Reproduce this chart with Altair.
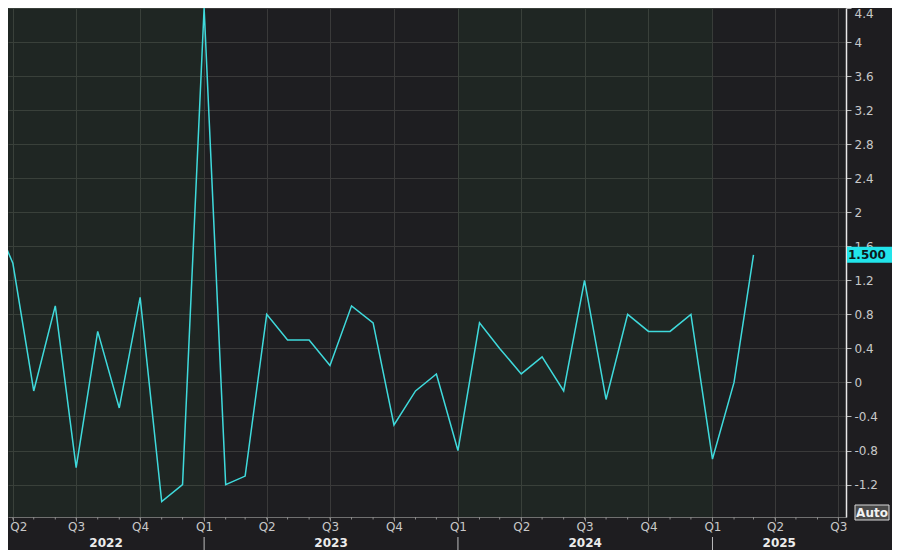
import altair as alt
import pandas as pd

# ---- data ----
months = [
    "2022-03", "2022-04", "2022-05", "2022-06", "2022-07", "2022-08", "2022-09",
    "2022-10", "2022-11", "2022-12",
    "2023-01", "2023-02", "2023-03", "2023-04", "2023-05", "2023-06", "2023-07",
    "2023-08", "2023-09", "2023-10", "2023-11", "2023-12",
    "2024-01", "2024-02", "2024-03", "2024-04", "2024-05", "2024-06", "2024-07",
    "2024-08", "2024-09", "2024-10", "2024-11", "2024-12",
    "2025-01", "2025-02", "2025-03",
]
values = [
    2.0, 1.4, -0.1, 0.9, -1.0, 0.6, -0.3, 1.0, -1.4, -1.2,
    4.4, -1.2, -1.1, 0.8, 0.5, 0.5, 0.2, 0.9, 0.7, -0.5, -0.1, 0.1,
    -0.8, 0.7, 0.4, 0.1, 0.3, -0.1, 1.2, -0.2, 0.8, 0.6, 0.6, 0.8,
    -0.9, 0.0, 1.5,
]
y_ticks = [-1.2, -0.8, -0.4, 0, 0.4, 0.8, 1.2, 1.6, 2, 2.4, 2.8, 3.2, 3.6, 4, 4.4]
years = ["2022", "2023", "2024", "2025"]
band_fills = ["#2f7a3c", "#000000", "#2f7a3c", "#000000"]
band_opacity = [0.085, 0.0, 0.085, 0.0]
last_label = "1.500"
last_value = 1.5
view_start = "2022-03-25T00:00:00"
view_end = "2025-07-12T00:00:00"

# ---- tables ----
FONT = "DejaVu Sans"
H = 509
df = pd.DataFrame({"date": [m + "-01T00:00:00" for m in months], "value": values})

year_starts = [view_start] + [y + "-01-01T00:00:00" for y in years[1:]]
year_ends = [y + "-01-01T00:00:00" for y in years[1:]] + [view_end]
bands = pd.DataFrame({"start": year_starts, "end": year_ends,
                      "fill": band_fills, "op": band_opacity, "year": years})
s = pd.to_datetime(bands["start"])
e = pd.to_datetime(bands["end"])
bands["mid"] = (s + (e - s) / 2).dt.strftime("%Y-%m-%dT%H:%M:%S")
seps = pd.DataFrame({"date": [y + "-01-01T00:00:00" for y in years[1:]]})

tick_months = []
for y in range(2022, 2026):
    for m in range(1, 13):
        d = pd.Timestamp(year=y, month=m, day=1)
        if pd.Timestamp(view_start) <= d <= pd.Timestamp(view_end):
            tick_months.append(d)
minor = pd.DataFrame({"date": [d.strftime("%Y-%m-%dT%H:%M:%S") for d in tick_months]})
quarter_vals = [alt.DateTime(year=d.year, month=d.month, date=1)
                for d in tick_months if d.month in (1, 4, 7, 10)]

last = pd.DataFrame({"value": [last_value], "label": [last_label]})
one = pd.DataFrame({"a": [0]})

# ---- scales / axes ----
xscale = alt.Scale(domain=[alt.DateTime(year=2022, month=3, date=25),
                           alt.DateTime(year=2025, month=7, date=12)])
yscale = alt.Scale(domain=[-1.581, 4.4], nice=False, zero=False)

xaxis = alt.Axis(
    values=quarter_vals, title=None,
    labelExpr="'Q' + quarter(datum.value)",
    tickSize=4, tickColor="#8c8c8c", domainColor="#707070",
    grid=True, gridColor="#3a3a3a", gridWidth=1,
    labelColor="#c8c8c8", labelFont=FONT, labelFontSize=12,
    labelPadding=0, labelOverlap=False, labelFlush=6, labelFlushOffset=3,
    labelBound=False,
)
yaxis = alt.Axis(
    orient="right", values=y_ticks, title=None,
    labelExpr="'' + datum.value",
    tickSize=5, tickColor="#b8b8b8", domainColor="#e8e8e8", domainWidth=1.5,
    grid=True, gridColor="#3a3a3a", gridWidth=1,
    labelColor="#c8c8c8", labelFont=FONT, labelFontSize=12,
    labelPadding=3, labelOverlap=False, labelFlush=True,
)


def X(field):
    return alt.X(field, type="temporal", scale=xscale, axis=xaxis)


def Y(field):
    return alt.Y(field, type="quantitative", scale=yscale, axis=yaxis)


band_layer = alt.Chart(bands).mark_rect(clip=True).encode(
    x=X("start"), x2="end:T",
    y=alt.value(0), y2=alt.value(H),
    color=alt.Color("fill:N", scale=None),
    opacity=alt.Opacity("op:Q", scale=None),
)

minor_ticks = alt.Chart(minor).mark_rule(color="#8c8c8c").encode(
    x=X("date"), y=alt.value(H), y2=alt.value(H + 2.5),
)

line = alt.Chart(df).mark_line(color="#3fdadc", strokeWidth=1.5, clip=True).encode(
    x=X("date"), y=Y("value"),
)

last_box = alt.Chart(last).mark_rule(color="#22e4ea", strokeWidth=16, strokeCap="butt").encode(
    x=alt.value(839), x2=alt.value(884), y=Y("value"),
)
last_text = alt.Chart(last).mark_text(
    align="left", baseline="middle", font=FONT, fontSize=12, fontWeight="bold",
    color="#0d1a1c",
).encode(x=alt.value(840), y=Y("value"), text="label:N")

year_text = alt.Chart(bands).mark_text(
    baseline="alphabetic", font=FONT, fontSize=12, fontWeight="bold", color="#ececec",
).encode(x=X("mid"), y=alt.value(539), text="year:N")

sep_rules = alt.Chart(seps).mark_rule(color="#bdbdbd").encode(
    x=X("date"), y=alt.value(529), y2=alt.value(542),
)

auto_box = alt.Chart(one).mark_rect(fill="#4a4a4a", stroke="#d8d8d8", strokeWidth=1).encode(
    x=alt.value(847), x2=alt.value(881), y=alt.value(497), y2=alt.value(512),
)
auto_text = alt.Chart(one).mark_text(
    align="center", baseline="middle", font=FONT, fontSize=12, fontWeight="bold",
    color="#f2f2f2",
).encode(x=alt.value(864), y=alt.value(505), text=alt.value("Auto"))

chart = alt.layer(
    band_layer, minor_ticks, line, last_box, last_text,
    year_text, sep_rules, auto_box, auto_text,
).properties(
    width=838, height=H,
    autosize=alt.AutoSizeParams(type="none"),
    padding={"left": 0, "top": 0, "right": 46, "bottom": 542 - H},
    background="#1e1d20",
).configure_view(fill="#1e1e21", stroke=None)

chart.save("out.html", embed_options={"renderer": "svg", "actions": False})
